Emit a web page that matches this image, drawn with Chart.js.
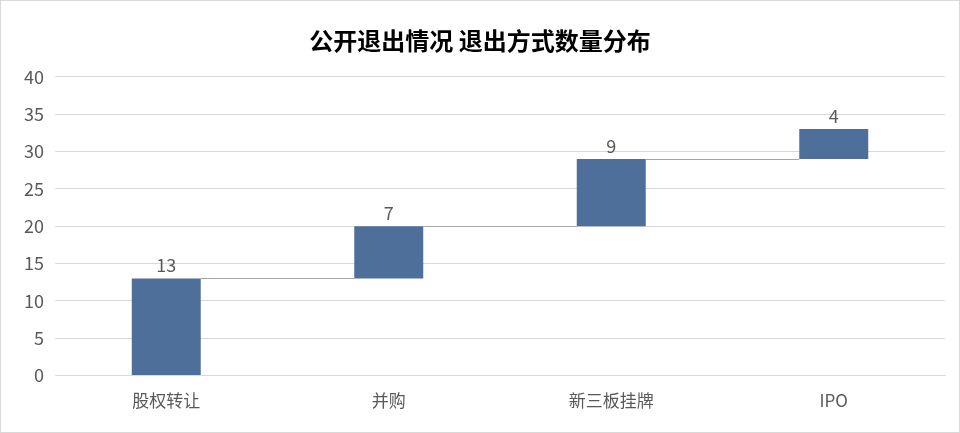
<!DOCTYPE html>
<html>
<head>
<meta charset="utf-8">
<script src="https://cdn.jsdelivr.net/npm/chart.js@4"></script>
<style>
  html, body { margin: 0; padding: 0; background: #fff; }
  #box { width: 960px; height: 433px; box-sizing: border-box; border: 1px solid #d9d9d9; position: relative; }
  canvas { display: block; }
</style>
</head>
<body>
<div id="box"><canvas id="exitChart" width="958" height="431"></canvas></div>
<script>
var categories = ['股权转让', '并购', '新三板挂牌', 'IPO'];
var counts = [13, 7, 9, 4];
var yTicks = [0, 5, 10, 15, 20, 25, 30, 35, 40];

// waterfall: each bar floats from the running total
var ranges = [];
var total = 0;
for (var i = 0; i < counts.length; i++) {
  ranges.push([total, total + counts[i]]);
  total += counts[i];
}

var labelFont = '"Noto Sans CJK SC", "Noto Sans", sans-serif';

var waterfallPlugin = {
  id: 'waterfall',
  afterDatasetsDraw: function (chart) {
    var ctx = chart.ctx;
    var meta = chart.getDatasetMeta(0);
    var yScale = chart.scales.y;
    ctx.save();
    // connectors
    ctx.strokeStyle = '#a6a6a6';
    ctx.lineWidth = 1;
    for (var i = 0; i < meta.data.length - 1; i++) {
      var bar = meta.data[i];
      var next = meta.data[i + 1];
      var y = Math.round(yScale.getPixelForValue(ranges[i][1])) + 0.5;
      ctx.beginPath();
      ctx.moveTo(bar.x + bar.width / 2, y);
      ctx.lineTo(next.x - next.width / 2, y);
      ctx.stroke();
    }
    // value labels
    ctx.fillStyle = '#595959';
    ctx.font = '18px ' + labelFont;
    ctx.textAlign = 'center';
    ctx.textBaseline = 'bottom';
    meta.data.forEach(function (bar, i) {
      ctx.fillText(String(counts[i]), bar.x, yScale.getPixelForValue(ranges[i][1]) - 4);
    });
    ctx.restore();
  }
};

new Chart(document.getElementById('exitChart'), {
  type: 'bar',
  data: {
    labels: categories,
    datasets: [{
      label: '退出方式数量',
      data: ranges,
      backgroundColor: '#4e6f99',
      borderColor: '#4e6f99',
      borderWidth: 0,
      borderSkipped: false,
      categoryPercentage: 1,
      barPercentage: 0.31
    }]
  },
  options: {
    responsive: false,
    animation: false,
    layout: { padding: { left: 14, right: 14, top: 8, bottom: 14 } },
    plugins: {
      legend: { display: false },
      tooltip: { enabled: false },
      title: {
        display: true,
        text: '公开退出情况 退出方式数量分布',
        color: '#000',
        font: { family: labelFont, size: 24, weight: 'bold' },
        padding: { top: 17, bottom: 22 }
      }
    },
    scales: {
      x: {
        grid: { display: false },
        border: { display: true, color: '#d9d9d9' },
        ticks: { color: '#595959', font: { family: labelFont, size: 17 }, padding: 7 }
      },
      y: {
        min: 0,
        max: 40,
        afterBuildTicks: function (axis) {
          axis.ticks = yTicks.map(function (v) { return { value: v }; });
        },
        afterFit: function (axis) { axis.width = 40; },
        grid: { color: '#d9d9d9', drawTicks: false },
        border: { display: false },
        ticks: { color: '#595959', font: { family: labelFont, size: 18 }, padding: 11 }
      }
    }
  },
  plugins: [waterfallPlugin]
});
</script>
</body>
</html>
